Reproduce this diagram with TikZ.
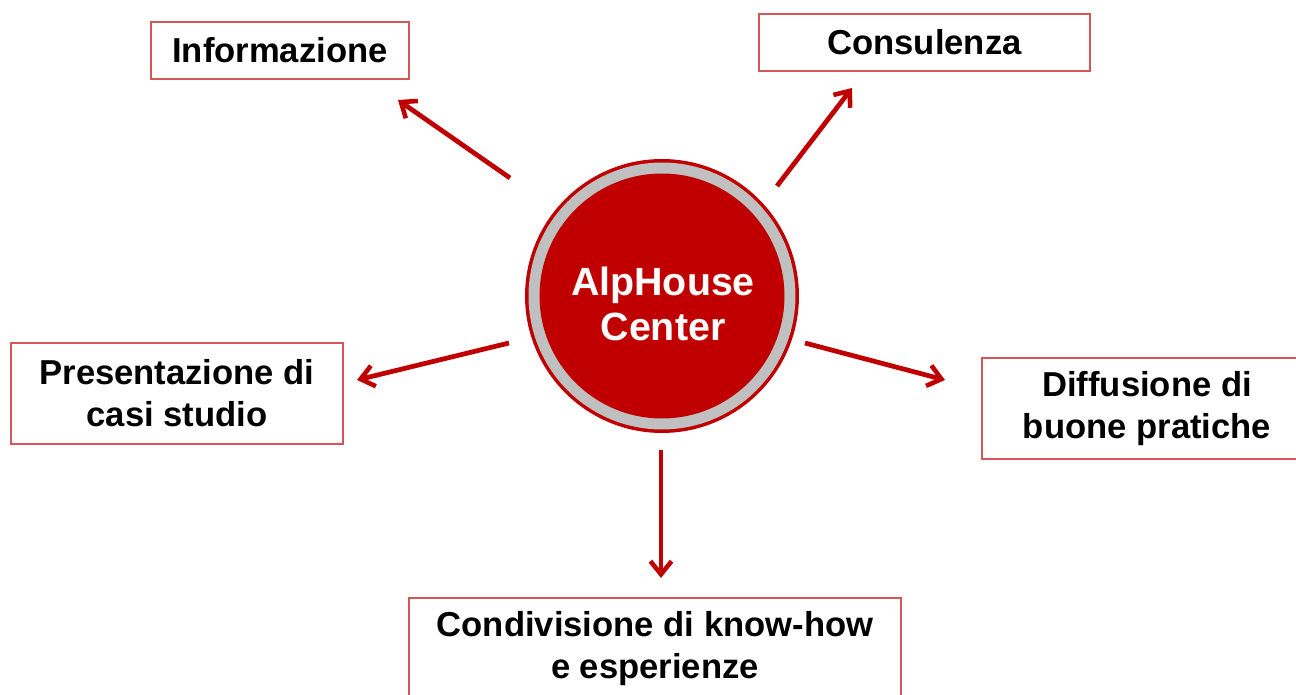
\documentclass[tikz,border=0pt]{standalone}
\usepackage{fontspec}
\setmainfont{Liberation Sans}
\usetikzlibrary{arrows.meta}

\definecolor{hubred}{HTML}{C00000}
\definecolor{boxred}{HTML}{D45656}
\definecolor{ringgray}{HTML}{C0C0C0}

\begin{document}
\begin{tikzpicture}[x=0.02cm, y=-0.02cm,
    >={Straight Barb[length=7.5pt,width=12pt,line width=2.6pt]},
    flow/.style={->, hubred, line width=2.7pt},
    topic/.style={draw=boxred, line width=0.8pt, fill=white, align=center,
        font=\fontsize{19.7}{23.8}\selectfont\bfseries, inner sep=0pt}]
    \useasboundingbox (0,0) rectangle (1296,695);

    % central hub
    \fill[hubred] (662,296) circle (2.74cm);
    \fill[ringgray] (662,296) circle (2.67cm);
    \fill[hubred] (662,296) circle (2.45cm);
    \node[white, align=center, font=\fontsize{22.4}{25.5}\selectfont\bfseries] (hub) at (663,304) {AlpHouse\\Center};

    % topics
    \node[topic, minimum width=5.16cm, minimum height=1.14cm] (info) at (280,50.5) {Informazione};
    \node[topic, minimum width=6.62cm, minimum height=1.14cm] (cons) at (924.5,42.5) {Consulenza};
    \node[topic, minimum width=6.64cm, minimum height=2.02cm] (pres) at (177,393.5) {Presentazione di\\casi studio};
    \node[topic, minimum width=6.6cm, minimum height=2.02cm] (diff) at (1147,408.5) {Diffusione di\\buone pratiche};
    \node[topic, minimum width=9.84cm, minimum height=2.02cm] (cond) at (655,648.5) {Condivisione di know-how\\e esperienze};

    % arrow ends
    \coordinate (info-from) at (510,178);
    \coordinate (info-to) at (398,100);
    \coordinate (cons-from) at (777,186);
    \coordinate (cons-to) at (852,88);
    \coordinate (pres-from) at (509,343);
    \coordinate (pres-to) at (357,380);
    \coordinate (diff-from) at (805,343);
    \coordinate (diff-to) at (945,380);
    \coordinate (cond-from) at (661,450);
    \coordinate (cond-to) at (661,578);

    \draw[flow] (info-from) -- (info-to);
    \draw[flow] (cons-from) -- (cons-to);
    \draw[flow] (pres-from) -- (pres-to);
    \draw[flow] (diff-from) -- (diff-to);
    \draw[flow] (cond-from) -- (cond-to);
\end{tikzpicture}
\end{document}
